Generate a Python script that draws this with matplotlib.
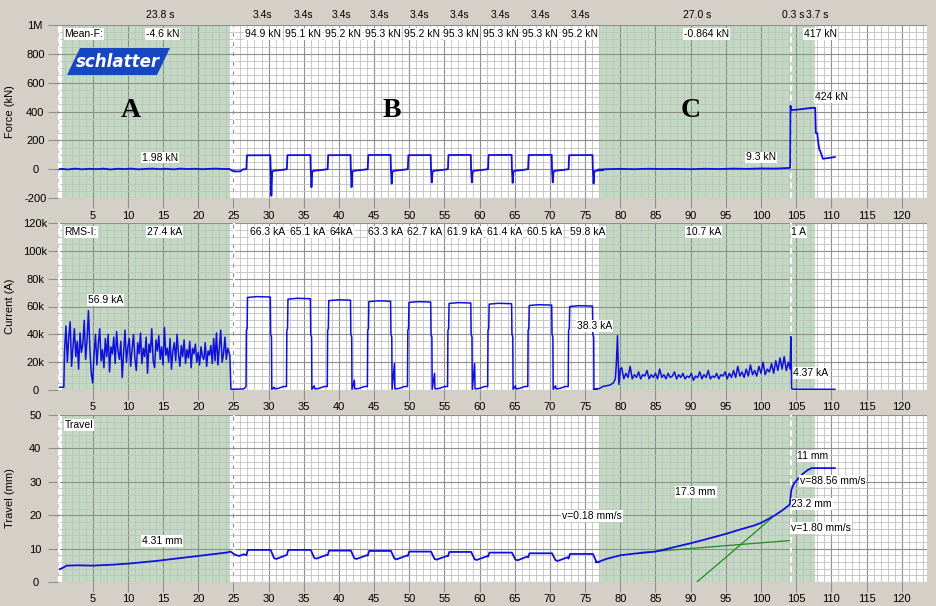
import numpy as np
import matplotlib.pyplot as plt
import matplotlib.transforms as mtransforms
from matplotlib.patches import Polygon

plt.rcParams['font.family'] = ['Liberation Sans', 'DejaVu Sans']

# ---- segment header / summary values ----
head_x = [14.6, 29.2, 34.9, 40.3, 45.8, 51.5, 57.2, 62.9, 68.6, 74.3, 90.9, 104.6, 108.0]
head_lbl = ['23.8 s'] + ['3.4s'] * 9 + ['27.0 s', '0.3 s', '3.7 s']

meanf_x = [14.9, 29.2, 34.9, 40.6, 46.2, 51.8, 57.4, 63.0, 68.6, 74.3, 92.3, 108.5]
meanf_lbl = ['-4.6 kN', '94.9 kN', '95.1 kN', '95.2 kN', '95.3 kN', '95.2 kN', '95.3 kN',
             '95.3 kN', '95.3 kN', '95.2 kN', '-0.864 kN', '417 kN']

rms_x = [15.2, 29.9, 35.5, 40.4, 46.7, 52.2, 57.9, 63.6, 69.3, 75.4, 91.8, 105.4]
rms_lbl = ['27.4 kA', '66.3 kA', '65.1 kA', '64kA', '63.3 kA', '62.7 kA', '61.9 kA',
           '61.4 kA', '60.5 kA', '59.8 kA', '10.7 kA', '1 A']

# ---- weld pulses (section B) ----
pulse_on = [26.85, 32.6, 38.4, 44.1, 49.8, 55.5, 61.2, 66.9, 72.65]
pulse_off = [30.3, 36.0, 41.7, 47.4, 53.1, 58.8, 64.6, 70.3, 76.1]
force_plateau = [96, 97, 97, 98, 97, 98, 98, 98, 97]
force_spike = [-185, -125, -125, -100, -92, -92, -95, -92, -100]
cur_plateau = [66.8, 65.6, 64.5, 63.8, 63.2, 62.5, 62.0, 61.0, 60.3]
cur_spike = [2, 3, 7, 19, 12, 19, 3, 3, 1]
trav_high = [9.6, 9.6, 9.4, 9.3, 9.1, 9.0, 8.8, 8.6, 8.4]
trav_low = [6.9, 7.0, 6.9, 6.8, 6.7, 6.6, 6.5, 6.3, 5.9]

# ---- force (kN), sections A and C ----
force_a_t = [0.3, 0.6, 1.5, 2.5, 3.5, 4.5, 5.5, 6.5, 7.5, 8.5, 9.5, 10.5, 11.5, 12.5, 13.5,
             14.5, 15.5, 16.5, 17.5, 18.5, 19.5, 20.5, 21.5, 22.5, 23.5, 24.4, 24.8, 25.3,
             26.0, 26.3, 26.5]
force_a_kn = [0, 2, -2, 4, -1, 3, 0, 4, -2, 3, 1, 4, -1, 2, 4, 0, 3, -1, 4, 1, 3, 0, 2, 4, 1,
              2, -10, -16, -15, -3, -1]
force_c_t = [76.8, 78, 80, 82, 84, 86, 88, 90, 92, 94, 96, 98, 100, 102, 103.5, 104.15,
             104.2, 104.3, 105, 106, 107, 107.7, 107.8, 108.0, 108.1, 108.3, 108.4, 108.8, 110.5]
force_c_kn = [-4, 0, 2, 0, 3, 1, 2, 0, 3, 1, 4, 2, 5, 4, 8, 9,
              440, 410, 412, 418, 424, 426, 250, 250, 200, 135, 130, 72, 84]

# ---- current (kA), sections A and C ----
cur_a_start, cur_a_step = 1.0, 0.2
cur_a_ka = [28, 46, 20, 38, 49, 17, 30, 44, 24, 35,
            15, 41, 27, 33, 50, 22, 36, 57, 30, 12,
            5, 26, 40, 18, 33, 44, 21, 29, 16, 37,
            24, 40, 13, 31, 26, 38, 19, 42, 28, 22,
            35, 9, 27, 43, 20, 31, 37, 17, 29, 40,
            23, 14, 34, 26, 41, 19, 30, 24, 38, 12,
            33, 27, 44, 21, 16, 36, 28, 39, 22, 31,
            18, 45, 25, 30, 20, 37, 15, 28, 34, 21,
            40, 26, 17, 32, 24, 36, 19, 29, 23, 35,
            16, 30, 26, 33, 20, 27, 18, 31, 24, 22,
            34, 17, 28, 25, 32, 19, 37, 21, 41, 18,
            30, 43, 20, 26, 38, 22, 30]
cur_c_start, cur_c_step = 80.2, 0.3
cur_c_ka = [16, 8, 12, 9, 17, 8, 11, 9, 13, 8, 11, 10, 14, 8, 11, 9, 12, 8, 15, 9,
            11, 8, 12, 9, 10, 13, 8, 11, 9, 12, 8, 10, 9, 12, 7, 10, 9, 13, 8, 11,
            9, 14, 8, 10, 9, 12, 8, 11, 10, 13, 8, 12, 9, 14, 9, 17, 10, 13, 9, 15,
            10, 18, 11, 14, 10, 17, 12, 20, 11, 15, 13, 19, 12, 21, 14, 23, 15, 24, 14, 20]
cur_c_lead_t = [76.3, 77.0, 77.5, 78.0, 78.5, 79.0, 79.3, 79.45, 79.6, 79.7, 79.8, 80.0]
cur_c_lead_ka = [0.5, 1, 2.5, 3, 3.5, 5, 8, 20, 39, 22, 4, 15]
cur_c_tail_t = [104.15, 104.25, 104.3, 104.35, 105, 110.5]
cur_c_tail_ka = [15, 38.3, 20, 0.8, 0.5, 0.5]

# ---- travel (mm), sections A and C ----
trav_a_t = [0.3, 0.8, 1.3, 3, 5, 8, 10, 12, 14, 16, 18, 20, 22, 24, 24.6, 25.2, 25.8, 26.5]
trav_a_mm = [3.8, 4.3, 4.9, 5.0, 4.9, 5.2, 5.5, 5.9, 6.3, 6.8, 7.3, 7.8, 8.3, 8.8, 9.1, 8.2, 7.8, 8.3]
trav_c_t = [76.5, 77, 78, 80, 82, 85, 88, 90, 92, 95, 97, 99, 100, 101, 102, 103, 104.1,
            104.3, 104.7, 105.3, 106, 106.7, 107.2, 110.5]
trav_c_mm = [5.9, 6.1, 6.9, 8.0, 8.5, 9.1, 10.6, 11.6, 12.7, 14.4, 15.7, 16.9, 17.7, 18.8,
             20.0, 21.4, 23.2, 27.5, 29.5, 31.0, 32.5, 33.6, 34.1, 34.1]
tan1_x, tan1_y = [82.8, 104.0], [8.8, 12.4]
tan2_x, tan2_y = [90.9, 101.5], [0.0, 19.1]

# ---- assemble the traces ----
f_t, f_v = list(force_a_t), list(force_a_kn)
c_t = [0.3, 0.9] + [cur_a_start + cur_a_step * i for i in range(len(cur_a_ka))] + [24.5, 24.65, 26.5]
c_v = [2, 2] + cur_a_ka + [25, 0.5, 0.8]
tr_t, tr_v = list(trav_a_t), list(trav_a_mm)
for i in range(9):
    on, off = pulse_on[i], pulse_off[i]
    p = force_plateau[i]
    f_t += [on, on + 0.08, off - 0.05, off, off + 0.1, off + 0.22, off + 0.6, off + 1.5]
    f_v += [0, p, p + 1, -5, force_spike[i], -15, -10, -6]
    cp = cur_plateau[i]
    c_t += [on - 0.05, on, on + 0.1, on + 0.16, on + 1.5, off - 0.05, off, off + 0.12,
            off + 0.16, off + 0.5, off + 0.55, off + 0.62]
    c_v += [2.5, 43, 44, cp - 0.3, cp + 0.3, cp, 40, 38, 0.5, cur_spike[i], 1, 0.8]
    tr_t += [on, on + 0.2, off, off + 0.5, off + 0.8]
    tr_v += [trav_low[i] + 1.1, trav_high[i], trav_high[i], trav_low[i] + 0.2, trav_low[i]]
    if i < 8:
        nxt = pulse_on[i + 1]
        f_t += [nxt - 0.4]
        f_v += [-3]
        c_t += [nxt - 1.2, nxt - 0.5]
        c_v += [1.2, 2.5]
        tr_t += [nxt - 0.15]
        tr_v += [trav_low[i] + 1.1]
f_t += force_c_t
f_v += force_c_kn
c_t += cur_c_lead_t + [cur_c_start + cur_c_step * i for i in range(len(cur_c_ka))] + cur_c_tail_t
c_v += cur_c_lead_ka + cur_c_ka + cur_c_tail_ka
tr_t += trav_c_t
tr_v += trav_c_mm

# ---- figure ----
W, H = 936, 606
fig = plt.figure(figsize=(W / 100, H / 100), dpi=100, facecolor='#d4d0c8')
left, right = 57.5, 927
ax1 = fig.add_axes([left / W, 1 - 198 / H, (right - left) / W, 173 / H])
ax2 = fig.add_axes([left / W, 1 - 390 / H, (right - left) / W, 167 / H])
ax3 = fig.add_axes([left / W, 1 - 582 / H, (right - left) / W, 167 / H])

blue = '#1010dc'
green_fill = '#c2dac2'
fs = 7.5


def style(ax, ymin, ymax, ymajor, yminor, ylabels, ylabel):
    ax.set_xlim(0, 123.6)
    ax.set_ylim(ymin, ymax)
    ax.set_axisbelow(True)
    ax.axvspan(0.7, 24.5, color=green_fill, lw=0, zorder=0.2)
    ax.axvspan(77.0, 107.7, color=green_fill, lw=0, zorder=0.2)
    ax.set_xticks(np.arange(5, 121, 5))
    ax.set_xticks(np.arange(0, 124, 1), minor=True)
    ax.set_yticks(ymajor)
    ax.set_yticklabels(ylabels)
    ax.set_yticks(yminor, minor=True)
    ax.grid(which='minor', color='#c0c0c0', lw=0.6)
    ax.grid(which='major', color='#8e8e8e', lw=0.8)
    for x in (0.2, 25.1, 104.2):
        ax.axvline(x, color='white', lw=1.4, ls=(0, (3, 2)), zorder=0.7)
    for s in ax.spines.values():
        s.set_visible(False)
    ax.tick_params(which='major', length=7, color='#8e8e8e', labelsize=8, pad=2)
    ax.tick_params(axis='y', pad=9)
    ax.tick_params(which='minor', length=0)
    for lab in ax.get_yticklabels():
        lab.set_ha('center')
    ax.set_ylabel(ylabel, fontsize=8)
    ax.yaxis.set_label_coords(-(left - 15) / (right - left), 0.5)


style(ax1, -200, 1000, np.arange(-200, 1001, 200), np.arange(-200, 1001, 50),
      ['-200', '0', '200', '400', '600', '800', '1M'], 'Force (kN)')
style(ax2, 0, 120, np.arange(0, 121, 20), np.arange(0, 121, 5),
      ['0', '20k', '40k', '60k', '80k', '100k', '120k'], 'Current (A)')
style(ax3, 0, 50, np.arange(0, 51, 10), np.arange(0, 51, 2),
      ['0', '10', '20', '30', '40', '50'], 'Travel (mm)')

ax1.plot(f_t, f_v, color=blue, lw=1.3, zorder=3)
ax2.plot(c_t, c_v, color=blue, lw=1.1, zorder=3)
ax3.plot(tan1_x, tan1_y, color='#1e8c1e', lw=0.9, zorder=2.5)
ax3.plot(tan2_x, tan2_y, color='#1e8c1e', lw=0.9, zorder=2.5)
ax3.plot(tr_t, tr_v, color=blue, lw=1.3, zorder=3)

box = dict(fc='white', ec='none', pad=0.6)


def lab(ax, x, y, s, trans=None, ha='center'):
    ax.text(x, y, s, fontsize=fs, ha=ha, va='center', bbox=box, zorder=5,
            transform=trans if trans is not None else ax.transData)


# header row above the force panel
htr = mtransforms.blended_transform_factory(ax1.transData, fig.transFigure)
for x, s in zip(head_x, head_lbl):
    ax1.text(x, 1 - 15 / H, s, fontsize=fs, ha='center', va='center', transform=htr)

# summary rows
for ax, xs, ls, title, yy in [(ax1, meanf_x, meanf_lbl, 'Mean-F:', 0.948),
                              (ax2, rms_x, rms_lbl, 'RMS-I:', 0.946)]:
    tr = mtransforms.blended_transform_factory(ax.transData, ax.transAxes)
    lab(ax, 1.0, yy, title, tr, ha='left')
    for x, s in zip(xs, ls):
        lab(ax, x, yy, s, tr)
lab(ax3, 1.0, 0.94, 'Travel', mtransforms.blended_transform_factory(ax3.transData, ax3.transAxes), ha='left')

# value annotations
lab(ax1, 14.6, 80, '1.98 kN')
lab(ax1, 100.0, 82, '9.3 kN')
lab(ax1, 110.0, 498, '424 kN')
lab(ax2, 6.8, 64.7, '56.9 kA')
lab(ax2, 76.3, 46, '38.3 kA')
lab(ax2, 107.1, 12.2, '4.37 kA')
lab(ax3, 14.9, 12.3, '4.31 mm')
lab(ax3, 76.0, 19.8, 'v=0.18 mm/s')
lab(ax3, 90.7, 26.9, '17.3 mm')
lab(ax3, 107.4, 37.7, '11 mm')
lab(ax3, 110.2, 30.2, 'v=88.56 mm/s')
lab(ax3, 107.2, 23.4, '23.2 mm')
lab(ax3, 108.5, 16.2, 'v=1.80 mm/s')

# section letters
for x, s in zip([10.4, 47.5, 90.0], ['A', 'B', 'C']):
    ax1.text(x, 410, s, fontsize=20, fontweight='bold', family='Liberation Serif',
             ha='center', va='center', zorder=5)

# logo
logo = [(67, 75), (80, 48), (170, 48), (157, 75)]
fig.patches.append(Polygon([(x / W, 1 - y / H) for x, y in logo], closed=True,
                           fc='#1646c0', ec='none', transform=fig.transFigure, zorder=6))
fig.text(118 / W, 1 - 62 / H, 'schlatter', color='white', fontsize=12, fontweight='bold',
         style='italic', ha='center', va='center', family='DejaVu Sans', zorder=7)

fig.savefig('out.png', dpi=100, facecolor=fig.get_facecolor())
